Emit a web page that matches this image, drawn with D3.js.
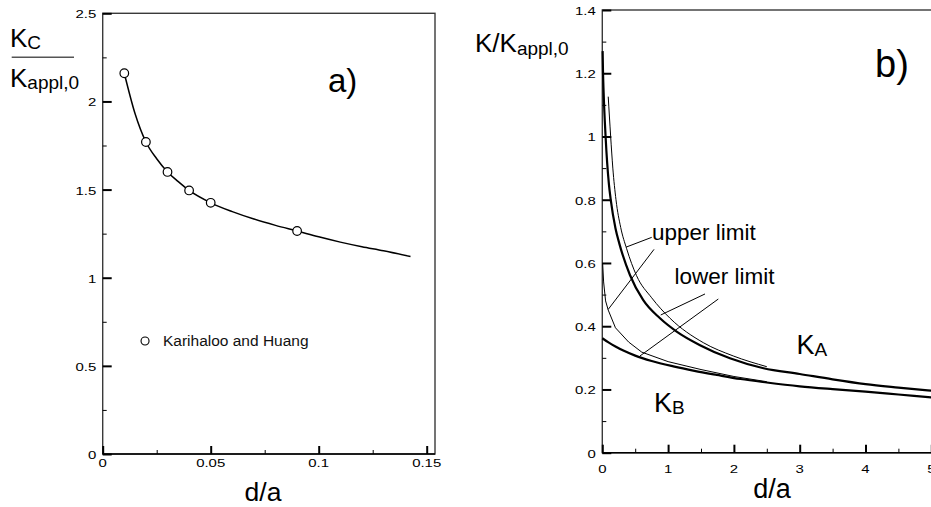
<!DOCTYPE html>
<html><head><meta charset="utf-8">
<script src="https://cdn.jsdelivr.net/npm/d3@7"></script>
<style>body{margin:0;background:#fff}svg{display:block;font-family:"Liberation Sans",Arial,Helvetica,sans-serif}</style>
</head><body><svg id="c" width="931" height="507"></svg>
<script>
// ---------- Panel a data ----------
const aPointsX = [0.01, 0.02, 0.03, 0.04, 0.05, 0.09];
const aPointsY = [2.16, 1.77, 1.60, 1.495, 1.425, 1.265];
const aCurveX = [0.01, 0.015, 0.02, 0.025, 0.03, 0.035, 0.04, 0.05, 0.06, 0.07, 0.08, 0.09, 0.10, 0.11, 0.12, 0.13, 0.1425];
const aCurveY = [2.16, 1.93, 1.77, 1.675, 1.60, 1.545, 1.495, 1.425, 1.375, 1.333, 1.297, 1.265, 1.232, 1.202, 1.176, 1.153, 1.12];
const aXMajor = [0, 0.05, 0.1, 0.15];
const aXMajorLabels = ["0", "0.05", "0.1", "0.15"];
const aXMinor = [0.025, 0.075, 0.125];
const aYMajor = [0, 0.5, 1, 1.5, 2, 2.5];
const aYMajorLabels = ["0", "0.5", "1", "1.5", "2", "2.5"];
const aYMinor = [0.25, 0.75, 1.25, 1.75, 2.25];
const aLegend = "Karihaloo and Huang";

// ---------- Panel b data ----------
const kaX = [0.005, 0.01, 0.02, 0.05, 0.1, 0.128, 0.2, 0.258, 0.42, 0.62, 0.877, 1.13, 1.485, 1.94, 2.45, 3.0, 3.5, 4.0, 4.5, 5.0];
const kaY = [1.27, 1.21, 1.14, 1.0, 0.85, 0.8, 0.71, 0.662, 0.562, 0.483, 0.425, 0.383, 0.34, 0.2985, 0.267, 0.249, 0.232, 0.217, 0.206, 0.196];
const upperX = [0.09, 0.127, 0.16, 0.208, 0.28, 0.37, 0.52, 0.75, 1.03, 1.535, 1.99, 2.5];
const upperY = [1.126, 1.0, 0.9, 0.8, 0.712, 0.645, 0.56, 0.49, 0.425, 0.348, 0.306, 0.272];
const kbX = [0, 0.1, 0.2, 0.32, 0.5, 0.75, 1.08, 1.4, 1.74, 2.1, 2.5, 3.0, 3.5, 4.0, 4.5, 5.0];
const kbY = [0.362, 0.348, 0.336, 0.323, 0.307, 0.29, 0.273, 0.259, 0.246, 0.233, 0.222, 0.21, 0.201, 0.193, 0.184, 0.175];
const lowerX = [0.005, 0.02, 0.05, 0.09, 0.2, 0.4, 0.6, 1.0, 1.5, 2.0, 2.5];
const lowerY = [0.60, 0.54, 0.48, 0.451, 0.395, 0.35, 0.318, 0.288, 0.263, 0.241, 0.2245];
const bXMajor = [0, 1, 2, 3, 4, 5];
const bXMajorLabels = ["0", "1", "2", "3", "4", "5"];
const bXMinor = [0.5, 1.5, 2.5, 3.5, 4.5];
const bYMajor = [0, 0.2, 0.4, 0.6, 0.8, 1, 1.2, 1.4];
const bYMajorLabels = ["0", "0.2", "0.4", "0.6", "0.8", "1", "1.2", "1.4"];
const bYMinor = [0.1, 0.3, 0.5, 0.7, 0.9, 1.1, 1.3];
// leader lines (data units): from label end to curve
const leadX1 = [0.751, 0.786, 1.561, 1.763];
const leadY1 = [0.681, 0.643, 0.502, 0.486];
const leadX2 = [0.360, 0.091, 0.888, 0.573];
const leadY2 = [0.650, 0.4535, 0.4355, 0.306];
const bTextLabels = ["upper limit", "lower limit"];
const bTextX = [0.755, 1.097];
const bTextY = [0.674, 0.5326];

const svg = d3.select("#c");
const ink = "#000", frame = "#3a3a3a";

function zip(xs, ys) { return xs.map((x, i) => [x, ys[i]]); }
function tickLabel(g, x, y, txt, anchor) {
  g.append("text").attr("transform", `translate(${x},${y}) scale(1.3,1)`)
    .attr("text-anchor", anchor).attr("font-size", 11.5).attr("fill", "#000").text(txt);
}

function drawFrame(g, x, y, x0, x1, y0, y1, xMaj, xMin, yMaj, yMin, xLab, yLab, xLabDy) {
  g.append("rect").attr("x", x0).attr("y", y1).attr("width", x1 - x0).attr("height", y0 - y1)
    .attr("fill", "none").attr("stroke", frame).attr("stroke-width", 1.4);
  g.append("line").attr("x1", x0).attr("x2", x1).attr("y1", y0).attr("y2", y0).attr("stroke", ink).attr("stroke-width", 1.4);
  const ax = g.append("g").attr("transform", `translate(0,${y0})`);
  ax.call(d3.axisBottom(x).tickValues(xMaj).tickSize(-8).tickSizeOuter(0).tickFormat(""));
  const axm = g.append("g").attr("transform", `translate(0,${y0})`);
  axm.call(d3.axisBottom(x).tickValues(xMin).tickSize(-4).tickSizeOuter(0).tickFormat(""));
  const ay = g.append("g").attr("transform", `translate(${x0},0)`);
  ay.call(d3.axisLeft(y).tickValues(yMaj).tickSize(-9).tickSizeOuter(0).tickFormat(""));
  const aym = g.append("g").attr("transform", `translate(${x0},0)`);
  aym.call(d3.axisLeft(y).tickValues(yMin).tickSize(-4).tickSizeOuter(0).tickFormat(""));
  [ax, axm, ay, aym].forEach(a => a.select(".domain").remove());
  ax.selectAll("line").attr("stroke", ink).attr("stroke-width", 2);
  ay.selectAll("line").attr("stroke", ink).attr("stroke-width", 2);
  axm.selectAll("line").attr("stroke", ink).attr("stroke-width", 1);
  aym.selectAll("line").attr("stroke", ink).attr("stroke-width", 1);
  xMaj.forEach((v, i) => tickLabel(g, x(v), y0 + xLabDy, xLab[i], "middle"));
  yMaj.forEach((v, i) => tickLabel(g, x0 - 6.5, y(v) + 5, yLab[i], "end"));
}

// ================= Panel a =================
const xA = d3.scaleLinear([0, 0.15], [102.7, 426.7]);
const yA = d3.scaleLinear([0, 2.5], [454, 13.3]);
const gA = svg.append("g");
drawFrame(gA, xA, yA, xA(0), 435, yA(0), yA(2.5), aXMajor, aXMinor, aYMajor, aYMinor, aXMajorLabels, aYMajorLabels, 12.7);

gA.append("path").datum(zip(aCurveX, aCurveY))
  .attr("d", d3.line().x(d => xA(d[0])).y(d => yA(d[1])).curve(d3.curveMonotoneX))
  .attr("fill", "none").attr("stroke", ink).attr("stroke-width", 1.5);
gA.selectAll("circle.pt").data(zip(aPointsX, aPointsY)).join("circle").attr("class", "pt")
  .attr("cx", d => xA(d[0])).attr("cy", d => yA(d[1])).attr("r", 4.3)
  .attr("fill", "#fff").attr("stroke", ink).attr("stroke-width", 1.2);
gA.append("circle").attr("cx", xA(0.0196)).attr("cy", yA(0.641)).attr("r", 4)
  .attr("fill", "#fff").attr("stroke", ink).attr("stroke-width", 1.1);
gA.append("text").attr("x", xA(0.0279)).attr("y", yA(0.614)).attr("font-size", 15.5).attr("fill", "#111").text(aLegend);
gA.append("text").attr("x", xA(0.1043)).attr("y", yA(2.055)).attr("font-size", 33).text("a)");
gA.append("text").attr("x", 263).attr("y", 501).attr("text-anchor", "middle").attr("font-size", 26.5).text("d/a");
const t1 = gA.append("text").attr("x", 10).attr("y", 46.7).attr("font-size", 26);
t1.append("tspan").text("K");
t1.append("tspan").attr("font-size", 19).attr("dy", 2).text("C");
gA.append("line").attr("x1", 11.7).attr("x2", 74).attr("y1", 57.3).attr("y2", 57.3).attr("stroke", "#555").attr("stroke-width", 1.5);
const t2 = gA.append("text").attr("x", 10).attr("y", 86.7).attr("font-size", 26);
t2.append("tspan").text("K");
t2.append("tspan").attr("font-size", 19).attr("dy", 2).text("appl,0");

// ================= Panel b =================
const xB = d3.scaleLinear([0, 5], [602.3, 931.3]);
const yB = d3.scaleLinear([0, 1.4], [452.7, 10]);
const gB = svg.append("g");
drawFrame(gB, xB, yB, xB(0), 940, yB(0), yB(1.4), bXMajor, bXMinor, bYMajor, bYMinor, bXMajorLabels, bYMajorLabels, 20);

const lineB = d3.line().x(d => xB(d[0])).y(d => yB(d[1])).curve(d3.curveMonotoneX);
const lineBL = d3.line().x(d => xB(d[0])).y(d => yB(d[1]));
gB.append("path").datum(zip(upperX, upperY)).attr("d", lineB).attr("fill", "none").attr("stroke", ink).attr("stroke-width", 1);
gB.append("path").datum(zip(lowerX, lowerY)).attr("d", lineBL).attr("fill", "none").attr("stroke", ink).attr("stroke-width", 1);
gB.append("path").datum(zip(kaX, kaY)).attr("d", lineB).attr("fill", "none").attr("stroke", ink).attr("stroke-width", 2.2);
gB.append("path").datum(zip(kbX, kbY)).attr("d", lineB).attr("fill", "none").attr("stroke", ink).attr("stroke-width", 2.2);

leadX1.forEach((v, i) => {
  gB.append("line").attr("x1", xB(v)).attr("y1", yB(leadY1[i])).attr("x2", xB(leadX2[i])).attr("y2", yB(leadY2[i]))
    .attr("stroke", ink).attr("stroke-width", 1);
});
bTextLabels.forEach((t, i) => {
  gB.append("text").attr("x", xB(bTextX[i])).attr("y", yB(bTextY[i])).attr("font-size", 22.5).text(t);
});
const ka = gB.append("text").attr("x", xB(2.95)).attr("y", yB(0.311)).attr("font-size", 27);
ka.append("tspan").text("K"); ka.append("tspan").attr("font-size", 19).attr("dy", 2).text("A");
const kb = gB.append("text").attr("x", xB(0.786)).attr("y", yB(0.128)).attr("font-size", 27);
kb.append("tspan").text("K"); kb.append("tspan").attr("font-size", 19).attr("dy", 2).text("B");
gB.append("text").attr("x", xB(4.145)).attr("y", yB(1.188)).attr("font-size", 38).text("b)");
gB.append("text").attr("x", 772).attr("y", 498).attr("text-anchor", "middle").attr("font-size", 27).text("d/a");
const ty = gB.append("text").attr("x", 475).attr("y", 51.7).attr("font-size", 26);
ty.append("tspan").text("K/K");
ty.append("tspan").attr("font-size", 19).attr("dy", 3).text("appl,0");
</script></body></html>
